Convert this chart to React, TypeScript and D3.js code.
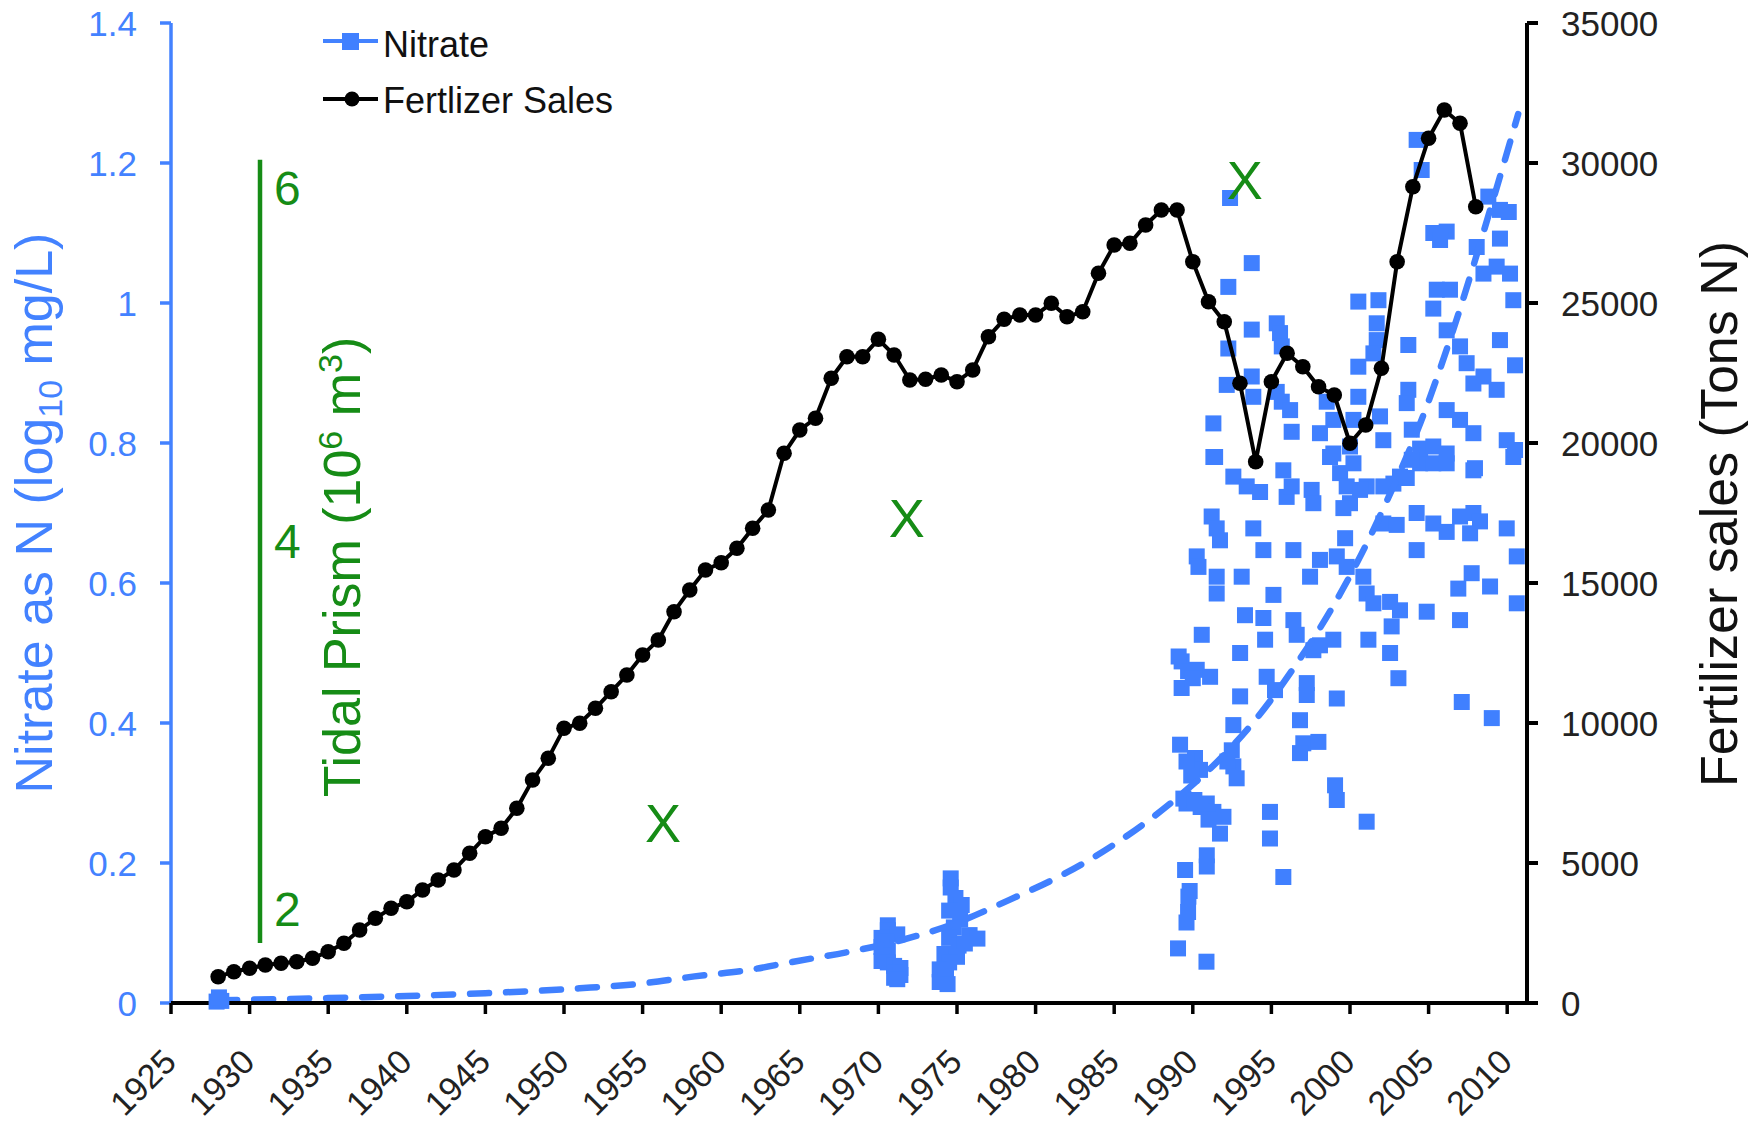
import React from 'react';
import * as d3 from 'd3';

// ---------- DATA ----------
const xTickYears = [1925, 1930, 1935, 1940, 1945, 1950, 1955, 1960, 1965, 1970, 1975, 1980, 1985, 1990, 1995, 2000, 2005, 2010];
const leftTicks = [0, 0.2, 0.4, 0.6, 0.8, 1, 1.2, 1.4];
const rightTicks = [0, 5000, 10000, 15000, 20000, 25000, 30000, 35000];
const tidalTicks = [2, 4, 6];

const fertYears = [
  1928, 1929, 1930, 1931, 1932, 1933, 1934, 1935, 1936, 1937, 1938, 1939, 1940, 1941, 1942, 1943, 1944, 1945, 1946, 1947,
  1948, 1949, 1950, 1951, 1952, 1953, 1954, 1955, 1956, 1957, 1958, 1959, 1960, 1961, 1962, 1963, 1964, 1965, 1966, 1967,
  1968, 1969, 1970, 1971, 1972, 1973, 1974, 1975, 1976, 1977, 1978, 1979, 1980, 1981, 1982, 1983, 1984, 1985, 1986, 1987,
  1988, 1989, 1990, 1991, 1992, 1993, 1994, 1995, 1996, 1997, 1998, 1999, 2000, 2001, 2002, 2003, 2004, 2005, 2006, 2007, 2008,
];
const fertSales = [
  939, 1118, 1239, 1357, 1418, 1475, 1596, 1832, 2132, 2607, 3025, 3382, 3618, 4036, 4393, 4750, 5346, 5939, 6239, 6954,
  7964, 8739, 9811, 9989, 10525, 11118, 11714, 12428, 12964, 13975, 14750, 15464, 15725, 16239, 16954, 17607, 19632, 20464, 20882, 22311,
  23082, 23082, 23704, 23143, 22250, 22275, 22429, 22189, 22607, 23797, 24418, 24571, 24571, 24989, 24511, 24689, 26061, 27071, 27132, 27786,
  28321, 28321, 26475, 25046, 24332, 22132, 19332, 22189, 23204, 22725, 22011, 21714, 19989, 20643, 22668, 26475, 29154, 30882, 31893, 31418, 28439,
];

// nitrate samples [year, log10 mg/L]
const nitrateEarly = [[1927.9, 0.002], [1928.2, 0.003], [1928.05, 0.008]];
const nitrate1970 = [
  [1970.6, 0.111], [1970.6, 0.104], [1971.2, 0.098], [1970.2, 0.093], [1970.5, 0.088], [1970.2, 0.08], [1970.6, 0.075],
  [1970.3, 0.068], [1970.2, 0.06], [1970.6, 0.058], [1971.0, 0.053], [1971.4, 0.05], [1971.1, 0.044], [1971.4, 0.04],
  [1971.0, 0.036], [1971.2, 0.034],
];
const nitrate1975 = [
  [1974.6, 0.178], [1974.6, 0.165], [1974.9, 0.15], [1975.3, 0.14], [1974.5, 0.132], [1975.2, 0.12], [1974.8, 0.108],
  [1975.8, 0.097], [1976.3, 0.092], [1974.5, 0.093], [1975.1, 0.082], [1975.5, 0.085], [1974.2, 0.07], [1975.0, 0.066],
  [1974.5, 0.058], [1973.9, 0.048], [1974.3, 0.04], [1973.9, 0.03], [1974.4, 0.027],
];
const nitrate1990s = [
  [1991.42, 0.78], [1992.58, 0.752], [1993.43, 0.738], [1994.28, 0.73], [1995.76, 0.761], [1995.97, 0.723], [1996.29, 0.738],
  [1997.56, 0.733], [1997.67, 0.714], [1998.73, 0.78], [1999.37, 0.757], [1999.79, 0.738], [2000.0, 0.714], [1999.58, 0.707],
  [2001.06, 0.738], [2002.12, 0.738], [2002.76, 0.742], [2003.61, 0.75], [2004.46, 0.771], [2005.3, 0.771], [2006.15, 0.771],
  [2007.85, 0.761], [2010.39, 0.78],
  [1991.2, 0.695], [1991.52, 0.678], [1991.73, 0.661], [1993.85, 0.678], [1994.49, 0.647], [1996.4, 0.647], [1999.69, 0.664],
  [2002.12, 0.685], [2002.97, 0.683], [2004.24, 0.7], [2005.3, 0.685], [2006.15, 0.673], [2007.0, 0.695], [2007.85, 0.7],
  [2008.27, 0.688], [2007.64, 0.671], [2009.97, 0.678], [2004.24, 0.647], [2010.61, 0.638],
  [1990.25, 0.638], [1990.36, 0.623], [1991.52, 0.609], [1991.52, 0.585], [1993.11, 0.609], [1995.13, 0.583], [1997.46, 0.609],
  [1998.09, 0.633], [1999.16, 0.638], [1999.79, 0.623], [2000.85, 0.609], [2001.06, 0.585], [2001.49, 0.571], [2002.55, 0.573],
  [2003.18, 0.561], [2004.88, 0.559], [2006.89, 0.592], [2007.74, 0.614], [2008.91, 0.595], [2010.61, 0.571],
  [1990.57, 0.526], [1989.29, 0.488], [1990.25, 0.476], [1991.1, 0.466], [1989.29, 0.45], [1993.01, 0.5], [1993.32, 0.554],
  [1994.49, 0.55], [1994.6, 0.519], [1996.4, 0.547], [1996.61, 0.526], [1997.67, 0.504], [1998.09, 0.511], [1998.94, 0.519],
  [2001.17, 0.519], [2002.65, 0.538], [2002.55, 0.5], [2003.08, 0.464], [2007.0, 0.547],
  [1993.01, 0.438], [1994.7, 0.466], [1995.23, 0.447], [1997.25, 0.457], [1997.25, 0.44], [1999.16, 0.435], [1996.82, 0.404],
  [1989.19, 0.369], [1992.58, 0.397], [2007.11, 0.43], [2009.02, 0.407],
  [1990.14, 0.35], [1990.46, 0.333], [1992.48, 0.361], [1992.58, 0.338], [1992.79, 0.321], [1997.03, 0.371], [1997.99, 0.373],
  [1996.82, 0.357], [1999.05, 0.311], [1999.16, 0.29], [1989.4, 0.292], [1990.89, 0.285], [1991.31, 0.273], [1991.95, 0.266],
  [1991.73, 0.242], [1994.91, 0.273], [1994.91, 0.235], [2001.06, 0.259],
  [1990.89, 0.211], [1990.89, 0.195], [1989.51, 0.19], [1995.76, 0.18], [1989.72, 0.152],
  [1989.8, 0.16], [1989.7, 0.13], [1989.6, 0.115], [1989.06, 0.078], [1990.87, 0.059], [1989.6, 0.285], [1990.1, 0.29],
  [1990.5, 0.28], [1991.0, 0.262], [1989.6, 0.345], [1989.9, 0.325], [1992.2, 0.345], [1989.1, 0.495], [1989.7, 0.474],
  [1990.0, 0.464],
  [1992.37, 1.15], [1993.75, 1.057], [1992.26, 1.023], [1993.75, 0.962], [1995.34, 0.971], [1995.55, 0.957], [1995.66, 0.938],
  [1992.26, 0.935], [1992.16, 0.883], [1993.75, 0.895], [1993.85, 0.866], [1995.34, 0.873], [1995.66, 0.859], [1996.19, 0.847],
  [1991.31, 0.828], [1996.29, 0.816], [1991.31, 0.78],
  [2000.53, 1.002], [2001.81, 1.004], [2001.7, 0.971], [2001.7, 0.947], [2000.53, 0.909], [2001.49, 0.928], [2000.53, 0.866],
  [1998.52, 0.859], [1998.94, 0.833], [2000.22, 0.833], [2001.91, 0.838], [1998.09, 0.814], [2000.0, 0.795], [1998.94, 0.785],
  [2000.22, 0.771], [2002.12, 0.804], [2000.64, 0.733],
  [2003.71, 0.94], [2003.71, 0.876], [2003.61, 0.857], [2003.93, 0.819], [2004.46, 0.792], [2003.93, 0.776], [2003.18, 0.752],
  [2005.3, 0.992], [2005.52, 1.019], [2006.15, 1.102], [2005.3, 1.1], [2005.73, 1.09], [2004.24, 1.233], [2004.56, 1.19],
  [2006.36, 1.019], [2006.15, 0.961], [2007.0, 0.938], [2007.42, 0.914], [2007.85, 0.885], [2006.15, 0.847], [2007.0, 0.833],
  [2007.85, 0.814], [2005.3, 0.795], [2006.15, 0.785], [2007.95, 0.764],
  [2008.8, 1.152], [2009.54, 1.133], [2009.54, 1.092], [2008.06, 1.08], [2008.49, 1.042], [2009.33, 1.052], [2010.18, 1.042],
  [2010.39, 1.004], [2009.54, 0.947], [2010.5, 0.911], [2008.49, 0.895], [2009.33, 0.876], [2009.97, 0.804], [2010.5, 0.79],
  [2010.1, 1.13],
];

// dashed trend [year, value]
const trendYears = [1928, 1935, 1940, 1945, 1951, 1955, 1958.3, 1961.7, 1964.6, 1968.1, 1971.5, 1974.9, 1978.3, 1981.7, 1985.1, 1989, 1992.1, 1994, 1996.4, 1998.9, 2001.1, 2002.3, 2004.5, 2006.5, 2009.1, 2010.7];
const trendValues = [0.004, 0.007, 0.01, 0.014, 0.021, 0.028, 0.038, 0.047, 0.059, 0.073, 0.09, 0.114, 0.147, 0.183, 0.228, 0.293, 0.357, 0.405, 0.478, 0.566, 0.658, 0.715, 0.83, 0.957, 1.147, 1.27];

// tidal prism markers [year, 10^6 m3]
const tidalYears = [1956.3, 1971.8, 1993.3];
const tidalValues = [2.47, 4.13, 6.05];
const tidalRange = [1.815, 6.16];

// ---------- STYLE ----------
const BLUE = '#4382ff';
const GREEN = '#168c16';
const FONT = '"Liberation Sans", Arial, Helvetica, sans-serif';

export default function App() {
  const L = 171, R = 1527, T = 23, B = 1003;
  const x = d3.scaleLinear().domain([1925, 2011.26]).range([L, R]);
  const yL = d3.scaleLinear().domain([0, 1.4]).range([B, T]);
  const yR = d3.scaleLinear().domain([0, 35000]).range([B, T]);
  const yT = d3.scaleLinear().domain([2, 4, 6]).range([909, 541, 188]);

  const fert = fertYears.map((yr, i) => [yr, fertSales[i]]);
  const fertLine = d3.line<number[]>().x((d) => x(d[0])).y((d) => yR(d[1]))(fert) || '';
  const trend = trendYears.map((yr, i) => [yr, trendValues[i]]);
  const trendLine = d3.line<number[]>().x((d) => x(d[0])).y((d) => yL(d[1])).curve(d3.curveMonotoneX)(trend) || '';
  const nitrate = [...nitrate1970, ...nitrate1975, ...nitrate1990s];
  const SQ = 16;

  return (
    <svg width={1760} height={1125} style={{ position: 'absolute', left: 0, top: 0, background: '#fff' }} fontFamily={FONT}>
      <rect x={0} y={0} width={1760} height={1125} fill="#fff" />
      {/* nitrate squares */}
      <g fill="#4080ff">
        {nitrate.map((d, i) => (
          <rect key={i} x={x(d[0]) - SQ / 2} y={yL(d[1]) - SQ / 2} width={SQ} height={SQ} />
        ))}
      </g>
      {/* trend */}
      <path d={trendLine} fill="none" stroke="#4080ff" strokeWidth={6.5} strokeDasharray="19 17" strokeLinecap="round" />

      {/* tidal prism scale */}
      <line x1={260} x2={260} y1={yT(tidalRange[1])} y2={yT(tidalRange[0])} stroke={GREEN} strokeWidth={4.5} />
      {tidalTicks.map((t) => (
        <text key={t} x={274} y={yT(t)} dy="0.36em" fontSize={48} fill={GREEN}>{t}</text>
      ))}
      {tidalYears.map((yr, i) => (
        <text key={i} x={x(yr)} y={yT(tidalValues[i])} dy="0.36em" textAnchor="middle" fontSize={54} fill={GREEN}>X</text>
      ))}

      {/* fertilizer line */}
      <path d={fertLine} fill="none" stroke="#000" strokeWidth={4} />
      <g fill="#000">
        {fert.map((d, i) => (
          <circle key={i} cx={x(d[0])} cy={yR(d[1])} r={7.8} />
        ))}
      </g>

      {/* left axis */}
      <line x1={L} x2={L} y1={T} y2={B} stroke={BLUE} strokeWidth={3.5} />
      {leftTicks.map((t) => (
        <g key={t}>
          <line x1={L - 11} x2={L} y1={yL(t)} y2={yL(t)} stroke={BLUE} strokeWidth={3.5} />
          <text x={137} y={yL(t)} dy="0.36em" textAnchor="end" fontSize={35} fill={BLUE}>{String(t)}</text>
        </g>
      ))}

      {/* right axis */}
      <line x1={R} x2={R} y1={T} y2={B} stroke="#000" strokeWidth={4} />
      {rightTicks.map((t) => (
        <g key={t}>
          <line x1={R} x2={R + 11} y1={yR(t)} y2={yR(t)} stroke="#000" strokeWidth={4} />
          <text x={1561} y={yR(t)} dy="0.36em" fontSize={35} fill="#222">{String(t)}</text>
        </g>
      ))}

      {/* bottom axis */}
      <line x1={L} x2={R + 2} y1={B} y2={B} stroke="#000" strokeWidth={4} />
      {xTickYears.map((yr) => (
        <g key={yr}>
          <line x1={x(yr)} x2={x(yr)} y1={B} y2={B + 11} stroke="#000" strokeWidth={3.5} />
          <text transform={`translate(${x(yr) + 7},1064) rotate(-45)`} textAnchor="end" fontSize={34} fill="#222">{yr}</text>
        </g>
      ))}

      {/* earliest nitrate samples sit on top of the axis line */}
      <g fill="#4080ff">
        {nitrateEarly.map((d, i) => (
          <rect key={i} x={x(d[0]) - SQ / 2} y={yL(d[1]) - SQ / 2} width={SQ} height={SQ} />
        ))}
      </g>

      {/* axis titles */}
      <text transform="translate(52,513) rotate(-90)" textAnchor="middle" fontSize={52} fill={BLUE}>
        Nitrate as N (log<tspan fontSize={34} dy={10}>10</tspan><tspan dy={-10}> mg/L)</tspan>
      </text>
      <text transform="translate(360,567) rotate(-90)" textAnchor="middle" fontSize={52} fill={GREEN}>
        Tidal Prism (10<tspan fontSize={34} dy={-18}>6</tspan><tspan dy={18}> m</tspan><tspan fontSize={34} dy={-18}>3</tspan><tspan dy={18}>)</tspan>
      </text>
      <text transform="translate(1737,514) rotate(-90)" textAnchor="middle" fontSize={52} fill="#111">
        Fertilizer sales (Tons N)
      </text>

      {/* legend */}
      <line x1={323} x2={378} y1={41} y2={41} stroke={BLUE} strokeWidth={4} />
      <rect x={342} y={33} width={17} height={17} fill="#4080ff" />
      <text x={383} y={57} fontSize={36} fill="#111">Nitrate</text>
      <line x1={323} x2={378} y1={99} y2={99} stroke="#000" strokeWidth={4} />
      <circle cx={352} cy={99} r={7.5} fill="#000" />
      <text x={383} y={113} fontSize={36} fill="#111">Fertlizer Sales</text>
    </svg>
  );
}
